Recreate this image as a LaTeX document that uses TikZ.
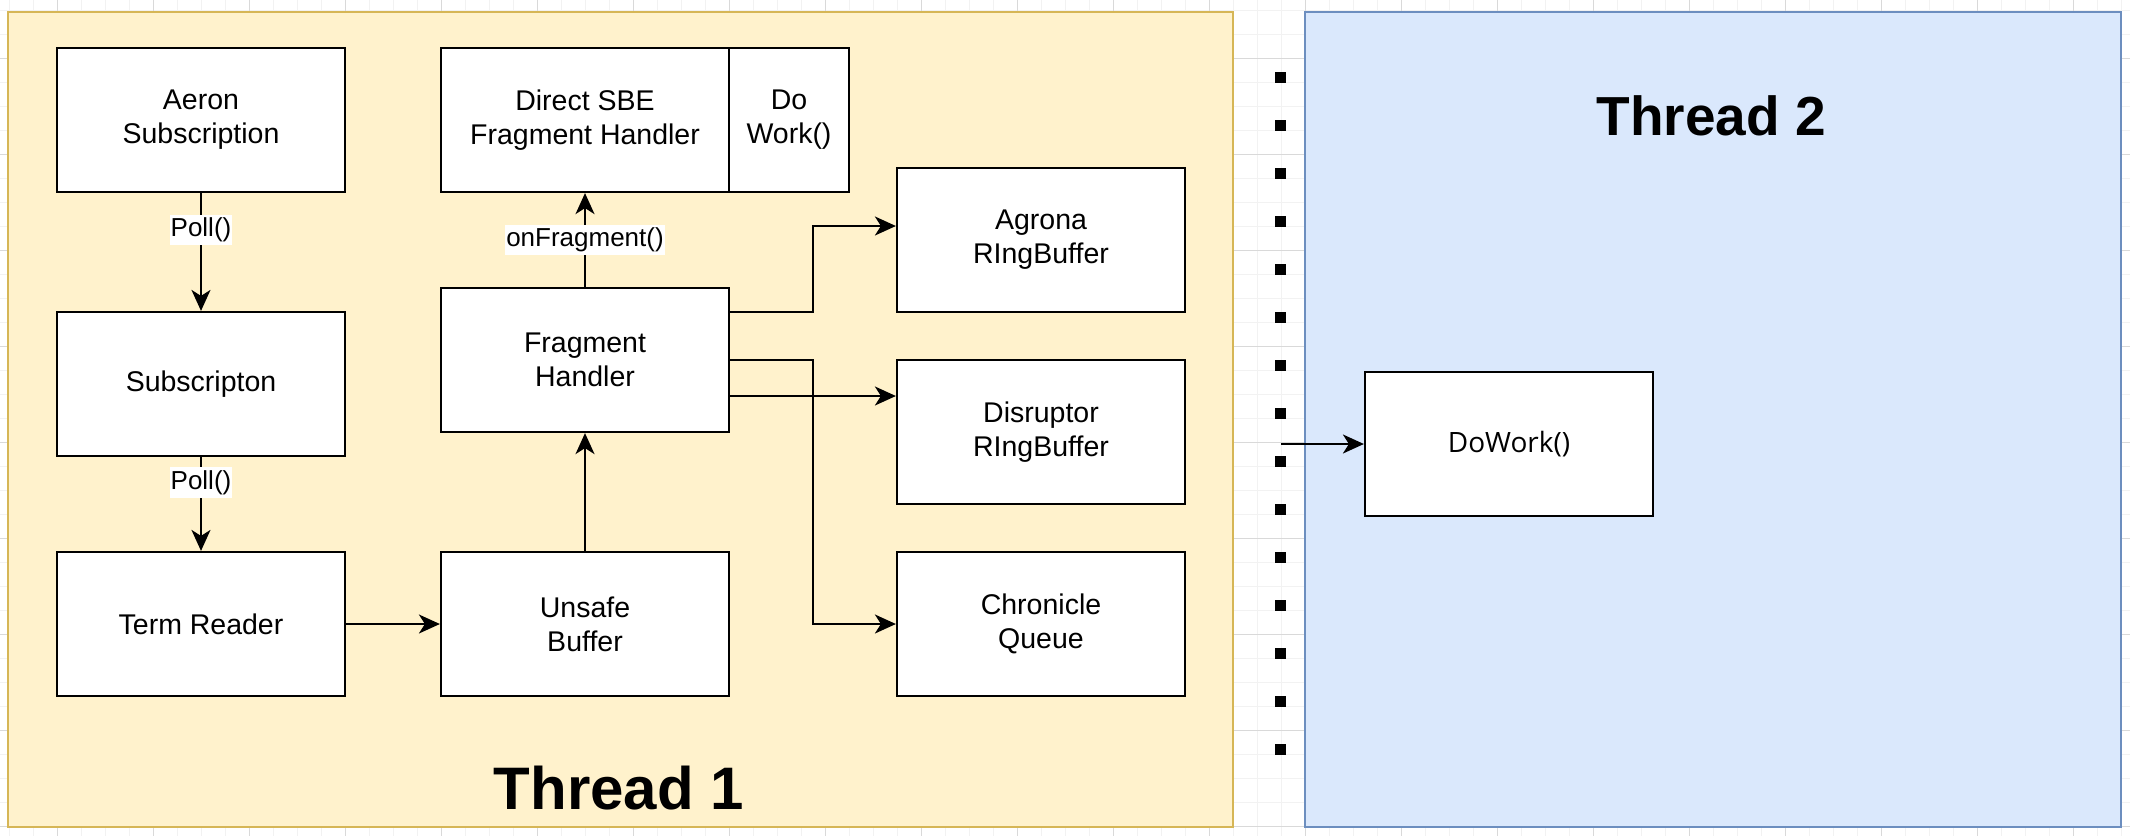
\documentclass[tikz,border=0pt]{standalone}
\usepackage{fontspec}
\setmainfont{Liberation Sans}
\newfontfamily\workfont{Open Sans}
\usetikzlibrary{arrows.meta}

\definecolor{threadonefill}{HTML}{FFF2CC}
\definecolor{threadoneline}{HTML}{D6B656}
\definecolor{threadtwofill}{HTML}{DAE8FC}
\definecolor{threadtwoline}{HTML}{6C8EBF}
\definecolor{gridminor}{HTML}{F2F2F2}
\definecolor{gridmajor}{HTML}{D9D9D9}

\begin{document}
\begin{tikzpicture}[x = 1pt, y = -1pt,
	block/.style = {draw = black, line width = 2.2pt, fill = white, minimum width = 288pt, minimum height = 144pt, inner sep = 0pt, align = center, font = \fontsize{28.5}{34}\selectfont},
	call/.style = {fill = white, inner xsep = 1pt, inner ysep = 3pt, font = \fontsize{26}{30}\selectfont},
	flow/.style = {draw = black, line width = 2pt, -{Stealth[length = 21pt, width = 19pt, inset = 6pt]}},
	title/.style = {anchor = base, font = \fontsize{55}{66}\selectfont\bfseries}]
					\useasboundingbox (0, 0) rectangle (2130, 836);
					\fill [white] (0, 0) rectangle (2130, 836);
					% background grid
					\foreach \gx in {9, 33, ..., 2130} \draw [gridminor, line width = 1pt] (\gx, 0) -- (\gx, 836);
					\foreach \gy in {10, 34, ..., 836} \draw [gridminor, line width = 1pt] (0, \gy) -- (2130, \gy);
					\foreach \gx in {57, 153, ..., 2130} \draw [gridmajor, line width = 1pt] (\gx, 0) -- (\gx, 836);
					\foreach \gy in {58, 154, ..., 836} \draw [gridmajor, line width = 1pt] (0, \gy) -- (2130, \gy);
					% threads
					\draw [threadoneline, fill = threadonefill, line width = 2pt] (8, 12) rectangle (1233, 827);
					\draw [threadtwoline, fill = threadtwofill, line width = 2pt] (1305, 12) rectangle (2121, 827);
					\node [title, font = \fontsize{60}{72}\selectfont\bfseries] (threadone) at (619, 809) {Thread 1};
					\node [title] (threadtwo) at (1711, 135) {Thread 2};
					% thread 1 blocks
					\node [block] (aeron) at (201, 120) {Aeron\\Subscription};
					\node [block] (sub) at (201, 384) {Subscripton};
					\node [block] (term) at (201, 624) {Term Reader};
					\node [block] (sbe) at (585, 120) {Direct SBE\\Fragment Handler};
					\node [block, minimum width = 120pt] (work) at (789, 120) {Do\\Work()};
					\node [block] (frag) at (585, 360) {Fragment\\Handler};
					\node [block] (unsafe) at (585, 624) {Unsafe\\Buffer};
					\node [block] (agrona) at (1041, 240) {Agrona\\RIngBuffer};
					\node [block] (disruptor) at (1041, 432) {Disruptor\\RIngBuffer};
					\node [block] (chronicle) at (1041, 624) {Chronicle\\Queue};
					% thread 2 block
					\node [block, font = \workfont\fontsize{28}{34}\selectfont] (dowork) at (1509, 444) {DoWork()};
					% boundary
					\foreach \k in {0, ..., 14} \fill [black] (1274.5, {71.5 + 48 * \k}) rectangle ++(11, 11);
					\coordinate (split) at (813, 360);
					\coordinate (tap) at (1281, 444);
					% connectors
					\draw [flow] (aeron.south) -- node [call, pos = 0.31] {Poll()} (sub.north);
					\draw [flow] (sub.south) -- node [call, pos = 0.27] {Poll()} (term.north);
					\draw [flow] (term.east) -- (unsafe.west);
					\draw [flow] (unsafe.north) -- (frag.south);
					\draw [flow] (frag.north) -- node [call] {onFragment()} (sbe.south);
					\draw [flow] ([yshift = 48pt]frag.east) -- ([yshift = 48pt]frag.east -| split) |- ([yshift = 14pt]agrona.west);
					\draw [flow] ([yshift = -36pt]frag.east) -- ([yshift = -36pt]frag.east -| disruptor.west);
					\draw [flow] (frag.east) -- (split) |- (chronicle.west);
					\draw [flow] (tap) -- (dowork.west);
				\end{tikzpicture}
\end{document}
